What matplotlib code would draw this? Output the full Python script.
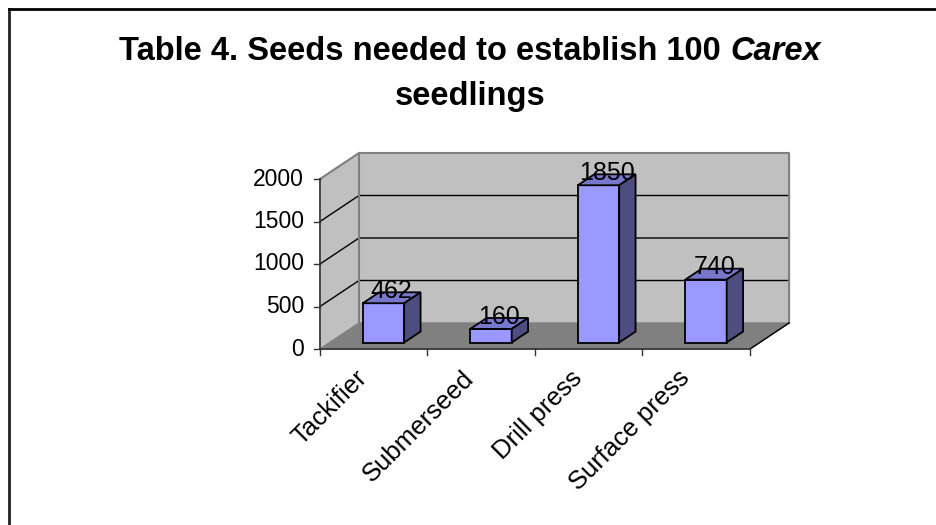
import matplotlib
matplotlib.use("Agg")
import matplotlib.pyplot as plt

categories = ['Tackifier', 'Submerseed', 'Drill press', 'Surface press']
seeds = [462, 160, 1850, 740]
yticks = [0, 500, 1000, 1500, 2000]

plt.rcParams['font.family'] = ['Liberation Sans', 'DejaVu Sans']

W, H = 936, 525
fig = plt.figure(figsize=(W / 100, H / 100), dpi=100)

# pixel layout of the front plane (Excel-style fake 3D)
px_x0, px_cat = 320.0, 107.5       # x=0 pixel, pixels per category
px_y0, px_unit = 349.0, 42.5 / 500  # y=0 pixel (from top), pixels per unit
xlim = (-0.6, 4.8)
ylim = (-2000, 2600)
left = (px_x0 + xlim[0] * px_cat) / W
right = (px_x0 + xlim[1] * px_cat) / W
bottom = (H - px_y0 + ylim[0] * px_unit) / H
top = (H - px_y0 + ylim[1] * px_unit) / H
ax = fig.add_axes([left, bottom, right - left, top - bottom])
ax.set_xlim(*xlim)
ax.set_ylim(*ylim)
ax.axis('off')

n = len(categories)
ymax = yticks[-1]
dx = 39 / px_cat            # floor depth in data units
dy = 26 / px_unit

# walls and floor
ax.fill([0, 0, dx, dx], [0, ymax, ymax + dy, dy], color='#C0C0C0', zorder=1)
ax.fill([dx, n + dx, n + dx, dx], [dy, dy, ymax + dy, ymax + dy], color='#C0C0C0', zorder=1)
ax.fill([0, n, n + dx, dx], [0, 0, dy, dy], color='#808080', zorder=1)
for t in yticks[1:-1]:
    ax.plot([0, dx, n + dx], [t, t + dy, t + dy], color='black', lw=1, zorder=2)
ax.plot([0, dx, n + dx, n + dx], [ymax, ymax + dy, ymax + dy, dy], color='#808080', lw=1.5, zorder=2)
ax.plot([dx, dx], [dy, ymax + dy], color='#808080', lw=1.5, zorder=2)
ax.plot([n, n + dx], [0, dy], color='black', lw=1, zorder=2)

# axes lines, ticks and labels
ax.plot([0, 0], [0, ymax], color='#333333', lw=1.2, zorder=3)
ax.plot([0, n], [0, 0], color='#333333', lw=1.2, zorder=3)
for t in yticks:
    ax.plot([-0.06, 0], [t, t], color='#333333', lw=1, zorder=3)
    ax.text(-0.15, t, str(t), ha='right', va='center', fontsize=16.5)
for i in range(n + 1):
    ax.plot([i, i], [0, -70], color='#333333', lw=1, zorder=3)

# bars
f0, fd = 0.25, 0.42
bw = 0.385
ox, oy = f0 * dx, f0 * dy
bx, by = fd * dx, fd * dy
xs = [i + 0.5 + ox for i in range(n)]
ax.bar(xs, seeds, width=bw, bottom=oy, color='#9999FF', edgecolor='black', lw=1.3, zorder=4)
for x, v in zip(xs, seeds):
    l, r = x - bw / 2, x + bw / 2
    t = oy + v
    ax.fill([l, r, r + bx, l + bx], [t, t, t + by, t + by], facecolor='#7777CC',
            edgecolor='black', lw=1.3, zorder=4)
    ax.fill([r, r + bx, r + bx, r], [oy, oy + by, t + by, t], facecolor='#4D4D80',
            edgecolor='black', lw=1.3, zorder=4)
    ax.text(x + bx / 2, t + by + 15, str(v), ha='center', va='center', fontsize=18, zorder=5)

for i, c in enumerate(categories):
    ax.text(i + 0.48, -200, c, rotation=45, ha='right', va='top', fontsize=18.5)

# title with italic genus name
fs = 23.5
t1 = fig.text(0, 1 - 60 / H, 'Table 4. Seeds needed to establish 100', fontsize=fs,
              fontweight='bold', ha='left', va='baseline')
t2 = fig.text(0, 1 - 60 / H, 'Carex', fontsize=fs, fontweight='bold', style='italic',
              ha='left', va='baseline')
fig.canvas.draw()
rend = fig.canvas.get_renderer()
w1 = t1.get_window_extent(rend).width
w2 = t2.get_window_extent(rend).width
gap = 0.278 * fs * 100 / 72
cx = 470
x_start = cx - (w1 + gap + w2) / 2
t1.set_x(x_start / W)
t2.set_x((x_start + w1 + gap) / W)
fig.text(cx / W, 1 - 105 / H, 'seedlings', fontsize=fs, fontweight='bold',
         ha='center', va='baseline')

# chart frame (only left and top edges visible)
fig.add_artist(plt.Line2D([8.5 / W, 8.5 / W], [0, 1 - 9 / H], color='#222222', lw=2))
fig.add_artist(plt.Line2D([8.5 / W, 1], [1 - 9 / H, 1 - 9 / H], color='black', lw=2))

fig.savefig('out.png', dpi=100)
